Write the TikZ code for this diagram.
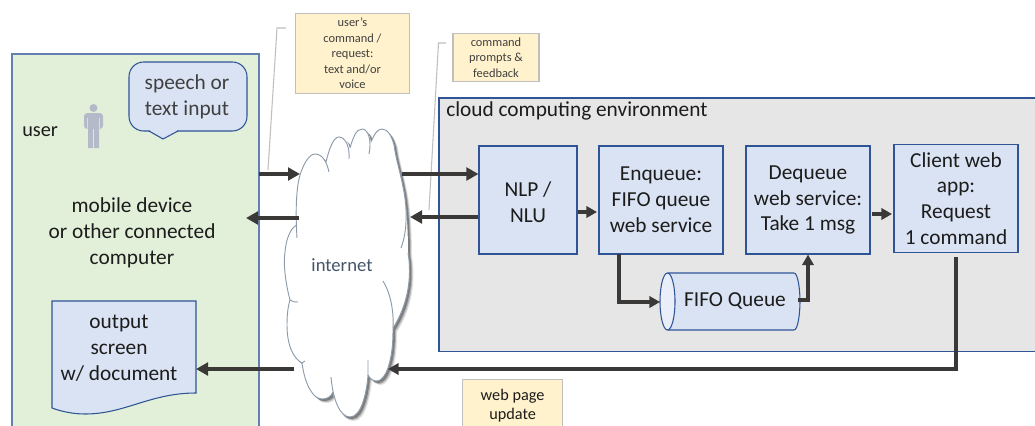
\documentclass[tikz,border=0pt]{standalone}
\usepackage{fontspec}
\setmainfont{Carlito}
\usetikzlibrary{arrows.meta}
\definecolor{edgeblue}{HTML}{2F5597}
\definecolor{boxblue}{HTML}{DAE3F3}
\definecolor{lightblue}{HTML}{E9EEF8}
\definecolor{envgrey}{HTML}{E7E6E6}
\definecolor{usergreen}{HTML}{E2F0D9}
\definecolor{noteyellow}{HTML}{FFF2CC}
\definecolor{notegrey}{HTML}{BFBFBF}
\definecolor{arrowdark}{HTML}{3B3838}
\definecolor{cloudedge}{HTML}{8C9BAB}
\definecolor{personblue}{HTML}{B4BAC8}
\definecolor{inkslate}{HTML}{44546A}
\definecolor{inkdark}{HTML}{1C1C1C}
\definecolor{inkgrey}{HTML}{404040}
\tikzset{
  x=0.75pt,y=-0.75pt,
  areabox/.style={draw=edgeblue,line width=0.8pt,inner sep=0pt},
  bluebox/.style={draw=edgeblue,fill=boxblue,line width=0.8pt,inner sep=0pt,align=center,text=inkdark,
    font=\fontsize{16}{19.4}\selectfont,minimum height=81pt},
  notebox/.style={draw=notegrey,fill=noteyellow,line width=0.9pt,inner sep=0pt,align=center,text=inkgrey,
    font=\fontsize{9.3}{11.6}\selectfont},
  plainlabel/.style={inner sep=0pt,align=center,text=inkdark,font=\fontsize{16}{19.4}\selectfont},
  heavyarrow/.style={draw=arrowdark,line width=3pt,-{Triangle[length=9pt,width=9.5pt]}},
  midarrow/.style={draw=arrowdark,line width=2.3pt,-{Triangle[length=8pt,width=8.5pt]}},
  leader/.style={draw=notegrey,line width=0.8pt},
  cloudline/.style={draw=cloudedge,line width=0.7pt},
}
\def\cloudpath{(297,225) .. controls (295,205) and (297,185) .. (300,175)
 .. controls (303,165) and (309,154) .. (315,154)
 .. controls (320,154) and (324,158) .. (326,162)
 .. controls (329,150) and (333,137) .. (339,137)
 .. controls (344,137) and (348,141) .. (350,148)
 .. controls (353,138) and (356,129) .. (362,129)
 .. controls (367,129) and (370,135) .. (371,142)
 .. controls (374,135) and (377,129) .. (382,129)
 .. controls (388,129) and (392,137) .. (394,145)
 .. controls (396,160) and (401,175) .. (403,187)
 .. controls (407,205) and (408,235) .. (408,253)
 .. controls (411,270) and (411,300) .. (393,328)
 .. controls (393,345) and (392,355) .. (388,368)
 .. controls (385,376) and (381,381) .. (377,381)
 .. controls (373,381) and (370,379) .. (368,375)
 .. controls (367,390) and (362,417) .. (350,417)
 .. controls (340,417) and (335,405) .. (333,392)
 .. controls (331,397) and (327,399) .. (322,399)
 .. controls (313,399) and (305,385) .. (302,363)
 .. controls (293,358) and (287,345) .. (287,325)
 .. controls (287,315) and (288,306) .. (290,300)
 .. controls (286,285) and (283,265) .. (285,252)
 .. controls (286,240) and (290,228) .. (297,225) -- cycle}
\begin{document}
\begin{tikzpicture}
\useasboundingbox (0,0) rectangle (1035,425);
\clip (0,0) rectangle (1035,425);
% areas
\path[areabox,draw=edgeblue!75,fill=usergreen] (12,54) rectangle (259,440);
\path[areabox,fill=envgrey] (439,98) rectangle (1050,351.5);
% cloud shadow
\foreach \s/\o in {4/0.12,3/0.2,2/0.3}{
  \fill[black,opacity=\o,shift={(\s,\s)}] \cloudpath;
}
\fill[white] \cloudpath;
\draw[cloudline] (297,238) .. controls (295,205) and (297,185) .. (300,175)
 .. controls (303,165) and (309,154) .. (315,154)
 .. controls (323,154) and (327,163) .. (329,172);
\draw[cloudline] (326,162) .. controls (329,150) and (333,137) .. (339,137)
 .. controls (345,137) and (350,146) .. (349,159);
\draw[cloudline] (350,148) .. controls (353,138) and (356,129) .. (362,129)
 .. controls (368,129) and (372,140) .. (369,154);
\draw[cloudline] (371,142) .. controls (374,135) and (377,129) .. (382,129)
 .. controls (388,129) and (392,137) .. (394,145)
 .. controls (396,160) and (401,175) .. (403,187)
 .. controls (407,205) and (408,230) .. (401,248);
\draw[cloudline] (408,253) .. controls (411,270) and (411,300) .. (393,328);
\draw[cloudline] (383,281) .. controls (390,292) and (394,310) .. (393,328)
 .. controls (393,345) and (392,355) .. (388,368)
 .. controls (385,376) and (381,381) .. (377,381)
 .. controls (373,381) and (370,379) .. (368,375) -- (368,360);
\draw[cloudline] (368,375) .. controls (367,390) and (362,417) .. (350,417)
 .. controls (340,417) and (333,400) .. (331,377);
\draw[cloudline] (333,392) .. controls (331,397) and (327,399) .. (322,399)
 .. controls (313,399) and (305,385) .. (302,363) -- (305,361);
\draw[cloudline] (302,363) .. controls (293,358) and (287,345) .. (287,325)
 .. controls (287,315) and (288,306) .. (290,300) .. controls (292,302) and (295,302) .. (298,302);
\draw[cloudline] (290,300) .. controls (286,285) and (283,265) .. (285,252)
 .. controls (286,240) and (290,228) .. (297,225);
\node[inner sep=0pt,text=inkslate,font=\fontsize{14}{16}\selectfont] (inet) at (342,265) {internet};
% person icon
\fill[personblue] (93.5,108) circle (4);
\fill[personblue,rounded corners=2.5] (84,113) rectangle (103,129);
\fill[personblue] (88,125) rectangle (93.2,148) (94,125) rectangle (99,148);
\draw[usergreen!70!personblue,line width=0.4pt] (87.5,118) -- (87.5,129) (99.5,118) -- (99.5,129);
% user labels
\node[plainlabel,anchor=base west,font=\fontsize{15.2}{19}\selectfont] (userlabel) at (22,136) {user};
\draw[edgeblue,fill=boxblue,line width=0.8pt,rounded corners=11]
  (129,62) -- (247,62) -- (247,131) -- (129,131) -- cycle;
\path[fill=boxblue] (150,128) rectangle (177,131.5);
\draw[edgeblue,fill=boxblue,line width=0.8pt,line join=miter] (149,131) -- (163,139) -- (178,131);
\node[plainlabel,text=inkgrey] (speech) at (187,97) {speech or\\text input};
\node[plainlabel] (device) at (132,232.5) {mobile device\\or other connected\\computer};
% document
\draw[edgeblue,fill=boxblue,line width=0.8pt] (52,301) -- (196,301) -- (196,393)
  .. controls (150,393) and (125,414) .. (85,414) .. controls (72,414) and (60,411) .. (52,408) -- cycle;
\node[plainlabel] (docs) at (119,348) {output\\screen\\w/ document};
\coordinate (docin) at (196,369);
% environment
\node[plainlabel,anchor=base west] (envlabel) at (446,116) {cloud computing environment};
\node[bluebox,minimum width=73.5pt] (nlp) at (528,200) {\rule{0pt}{15pt}NLP /\\NLU};
\node[bluebox,minimum width=93pt] (enq) at (661,200) {Enqueue:\\FIFO queue\\web service};
\node[bluebox,minimum width=93pt] (deq) at (808,200) {Dequeue\\web service:\\Take 1 msg};
\node[bluebox,minimum width=93pt] (cli) at (956,198.5) {Client web\\app:\\Request\\1 command};
% queue cylinder
\draw[edgeblue,fill=boxblue,line width=0.8pt] (667.5,273) -- (794,273)
  .. controls (798,273) and (800,290) .. (800,301.5) .. controls (800,313) and (798,330) .. (794,330) -- (667.5,330);
\draw[edgeblue,fill=lightblue,line width=0.8pt] (667.5,301.5) ellipse [x radius=7.5,y radius=28.5];
\node[inner sep=0pt,text=inkdark,font=\fontsize{16}{19}\selectfont] (fifo) at (735,301) {FIFO Queue};
% notes
\node[notebox,minimum width=86pt,minimum height=60.5pt] (note1) at (352.5,53.5) {user's\\command /\\request:\\text and/or\\voice};
\node[notebox,minimum width=64.5pt,minimum height=36.5pt] (note2) at (496,57.5) {command\\prompts \&\\feedback};
\node[notebox,minimum width=75pt,minimum height=38.5pt,text=inkdark,font=\fontsize{12.2}{14.3}\selectfont,anchor=north west] (note3) at (462,379) {web page\\update};
% leaders
\coordinate (lead1a) at (268,170); \coordinate (lead1b) at (277,28); \coordinate (lead1c) at (286,28);
\coordinate (lead2a) at (429,210); \coordinate (lead2b) at (438.5,43); \coordinate (lead2c) at (446,43);
\draw[leader] (lead1a) -- (lead1b) -- (lead1c);
\draw[leader] (lead2a) -- (lead2b) -- (lead2c);
% connectors
\coordinate (u1) at (259,174); \coordinate (c1) at (300,174);
\coordinate (c2) at (299,218); \coordinate (u2) at (246,218);
\coordinate (c3) at (402,174);
\coordinate (c4) at (410,217);
\coordinate (c5) at (294,369); \coordinate (c6) at (388,369);
\coordinate (cb) at (956,369);
\draw[heavyarrow] (u1) -- (c1);
\draw[heavyarrow] (c2) -- (u2);
\draw[heavyarrow] (c3) -- (c3 -| nlp.west);
\draw[heavyarrow] (c4 -| nlp.west) -- (c4);
\draw[heavyarrow] (c5) -- (docin);
\draw[midarrow] (nlp.east |- 0,212) -- (597,212);
\draw[midarrow] (872,214) -- (892,214);
\draw[midarrow,line width=3pt] (619,254) -- (619,302) -- (660,302);
\draw[midarrow,line width=2.6pt] (798,300) -- (808,300) -- (deq.south -| 808,0);
\draw[midarrow] (956,257) -- (cb) -- (c6);
\end{tikzpicture}
\end{document}
